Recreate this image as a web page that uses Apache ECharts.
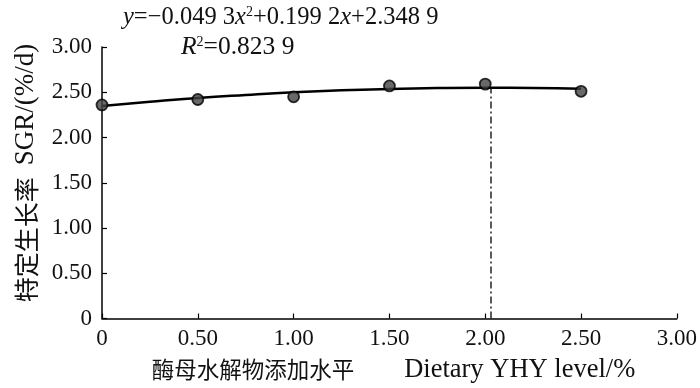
<!DOCTYPE html>
<html><head><meta charset="utf-8">
<script src="https://cdn.jsdelivr.net/npm/echarts@6/dist/echarts.min.js"></script>
<style>html,body{margin:0;padding:0;background:#fff}#c{width:700px;height:388px}</style>
</head><body><div id="c"></div>
<script>
const xTicks = [0, 0.5, 1.0, 1.5, 2.0, 2.5, 3.0];
const levels = [0, 0.5, 1.0, 1.5, 2.0, 2.5];
const sgr = [2.36, 2.42, 2.45, 2.57, 2.59, 2.51];
const fitX = [0, 0.25, 0.5, 0.75, 1.0, 1.25, 1.5, 1.75, 2.0, 2.25, 2.5];
const fitY = [2.349, 2.395, 2.437, 2.470, 2.499, 2.521, 2.536, 2.546, 2.550, 2.548, 2.539];
const optX = [2.03, 2.03];
const optY = [0, 2.55];
const xTitleCn = '酶母水解物添加水平';
const xTitleEn = 'Dietary YHY level/%';
const yTitleCn = '特定生长率';
const yTitleEn = 'SGR/(%/d)';

const SERIF = '"Liberation Serif","Noto Sans CJK SC",serif';
const CJK = '"Noto Sans CJK SC",sans-serif';
const richX = {
  c: {fontSize: 22.5, fontFamily: CJK, color: '#111', fill: '#111'},
  e: {fontSize: 26.5, fontFamily: SERIF, color: '#111', fill: '#111', padding: [0, 0, 0, 50]}
};
const richY = {
  c: {fontSize: 25, fontFamily: CJK, color: '#111', fill: '#111'},
  e: {fontSize: 27, fontFamily: SERIF, color: '#111', fill: '#111', padding: [0, 0, 0, 12]}
};
const fmt = v => v === 0 ? '0' : v.toFixed(2);
const chart = echarts.init(document.getElementById('c'));
chart.setOption({
  animation: false,
  textStyle: {fontFamily: SERIF},
  grid: {left: 102, right: 22, top: 47, bottom: 66},
  xAxis: {
    type: 'value', min: 0, max: 3, interval: 0.5,
    name: '{c|' + xTitleCn + '}{e|' + xTitleEn + '}',
    nameLocation: 'middle', nameGap: 38,
    nameTextStyle: {rich: richX, padding: [0, 0, 0, 8]},
    axisLine: {lineStyle: {color: '#000', width: 1.5}},
    axisTick: {inside: true, length: 5, lineStyle: {color: '#000', width: 1.2}},
    axisLabel: {fontSize: 23, color: '#111', margin: 9, fontFamily: SERIF, formatter: fmt},
    splitLine: {show: false}
  },
  yAxis: {
    type: 'value', min: 0, max: 3, interval: 0.5,
    axisLine: {show: true, lineStyle: {color: '#000', width: 1.5}},
    axisTick: {show: true, inside: true, length: 5, lineStyle: {color: '#000', width: 1.2}},
    axisLabel: {fontSize: 23, color: '#111', margin: 10, fontFamily: SERIF, formatter: fmt},
    splitLine: {show: false}
  },
  series: [
    {
      type: 'line', data: fitX.map((x, i) => [x, fitY[i]]),
      smooth: true, symbol: 'none',
      lineStyle: {color: '#000', width: 2.5}, z: 2
    },
    {
      type: 'line', data: optX.map((x, i) => [x, optY[i]]),
      symbol: 'none',
      lineStyle: {color: '#000', width: 1.3, type: [7, 3, 2, 3]}, z: 1
    },
    {
      type: 'scatter', data: levels.map((x, i) => [x, sgr[i]]),
      symbolSize: 11,
      itemStyle: {color: '#444', borderColor: '#000', borderWidth: 1.8}, z: 3
    }
  ],
  graphic: [
    {
      type: 'text', x: 26, y: 173, rotation: Math.PI / 2,
      style: {
        text: '{c|' + yTitleCn + '}{e|' + yTitleEn + '}',
        align: 'center', verticalAlign: 'middle', rich: richY
      }
    },
    {
      type: 'text', left: 123, top: 5,
      style: {
        text: '{i|y}=−0.049 3{i|x}{s|2}+0.199 2{i|x}+2.348 9',
        fontSize: 24.5, fontFamily: SERIF, fill: '#111',
        rich: {
          i: {fontStyle: 'italic', fontSize: 24.5, fontFamily: SERIF, fill: '#111'},
          s: {fontSize: 14, verticalAlign: 'top', fontFamily: SERIF, fill: '#111', padding: [0, 0, 9, 0]}
        }
      }
    },
    {
      type: 'text', left: 181, top: 35,
      style: {
        text: '{i|R}{s|2}=0.823 9',
        fontSize: 25.5, fontFamily: SERIF, fill: '#111',
        rich: {
          i: {fontStyle: 'italic', fontSize: 25.5, fontFamily: SERIF, fill: '#111'},
          s: {fontSize: 14, verticalAlign: 'top', fontFamily: SERIF, fill: '#111', padding: [0, 0, 9, 0]}
        }
      }
    }
  ]
});
</script></body></html>
